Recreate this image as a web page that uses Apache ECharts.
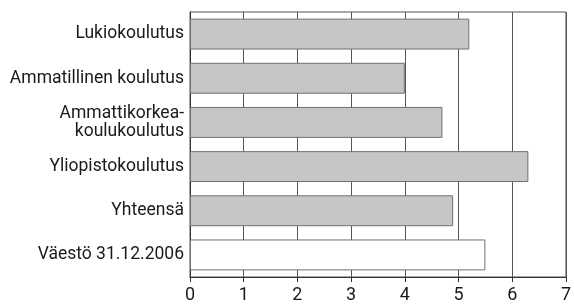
<!DOCTYPE html>
<html>
<head>
<meta charset="utf-8">
<script src="https://cdn.jsdelivr.net/npm/echarts@6/dist/echarts.min.js"></script>
<style>
  html, body { margin: 0; padding: 0; background: #fff; }
  #chart { width: 574px; height: 304px; }
</style>
</head>
<body>
<div id="chart"></div>
<script>
var categories = ['Lukiokoulutus', 'Ammatillinen koulutus', 'Ammattikorkea-\nkoulukoulutus', 'Yliopistokoulutus', 'Yhteensä', 'Väestö 31.12.2006'];
var values = [5.2, 4.0, 4.7, 6.3, 4.9, 5.5];
var xTicks = [0, 1, 2, 3, 4, 5, 6, 7];

var grayBar = { color: '#c6c6c6', borderColor: '#707070', borderWidth: 1 };
var whiteBar = { color: '#ffffff', borderColor: '#707070', borderWidth: 1 };

var data = [];
for (var i = 0; i < values.length; i++) {
    data.push({
        value: values[i],
        itemStyle: i == values.length - 1 ? whiteBar : grayBar
    });
}

var myChart = echarts.init(document.getElementById('chart'));
var option = {
    animation: false,
    grid: {
        left: 190, right: 3, top: 12, bottom: 27,
        show: true, borderColor: '#555', borderWidth: 1
    },
    xAxis: {
        type: 'value',
        min: 0, max: 7, interval: 1,
        axisLine: { show: true, lineStyle: { color: '#333' } },
        axisTick: { show: true, length: 5, lineStyle: { color: '#333' } },
        axisLabel: {
            color: '#1a1a1a', fontSize: 18, fontFamily: 'Roboto', margin: 9,
            formatter: function (v) { return xTicks.indexOf(v) != -1 ? String(v) : ''; }
        },
        splitLine: { show: true, lineStyle: { color: '#555', width: 1 } }
    },
    yAxis: {
        type: 'category',
        inverse: true,
        data: categories,
        axisLine: { show: true, lineStyle: { color: '#333' } },
        axisTick: { show: false },
        axisLabel: {
            color: '#1a1a1a', fontSize: 17.5, fontFamily: 'Roboto', margin: 6,
            lineHeight: 18, align: 'right'
        }
    },
    series: [{
        type: 'bar',
        data: data,
        barWidth: '70%'
    }]
};
myChart.setOption(option);
</script>
</body>
</html>
